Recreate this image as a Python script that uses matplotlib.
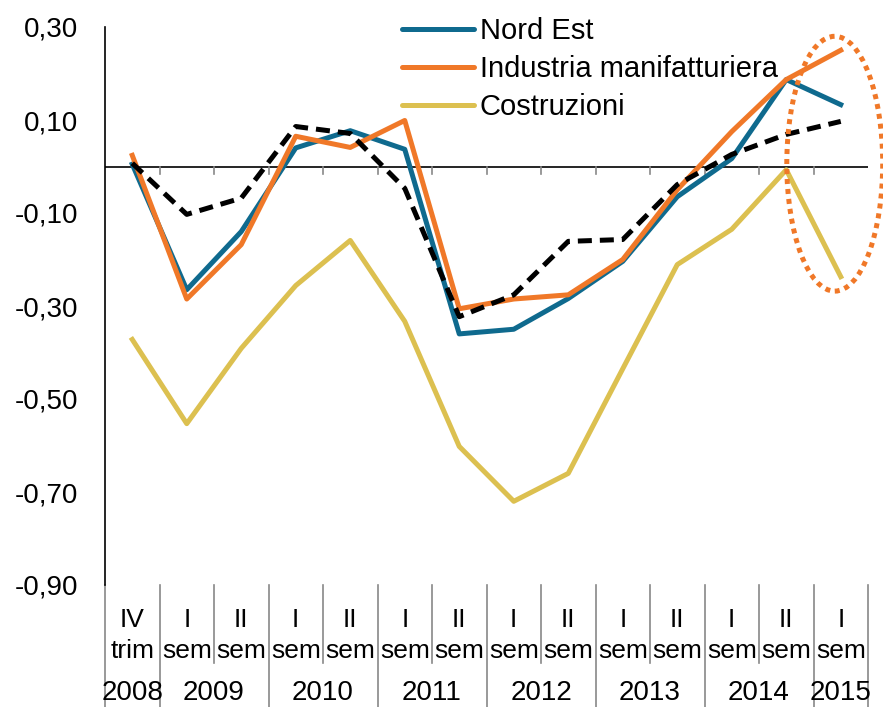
import matplotlib
matplotlib.use("Agg")
import matplotlib.pyplot as plt
from matplotlib.patches import Ellipse
import matplotlib.transforms as mtransforms

# Values
periods_top = ['IV', 'I', 'II', 'I', 'II', 'I', 'II', 'I', 'II', 'I', 'II', 'I', 'II', 'I']
periods_bot = ['trim', 'sem', 'sem', 'sem', 'sem', 'sem', 'sem', 'sem', 'sem', 'sem', 'sem', 'sem', 'sem', 'sem']
years = ['2008', '2009', '2010', '2011', '2012', '2013', '2014', '2015']
year_span = [(0, 0), (1, 2), (3, 4), (5, 6), (7, 8), (9, 10), (11, 12), (13, 13)]

nord_est = [0.005, -0.265, -0.14, 0.04, 0.077, 0.037, -0.36, -0.35, -0.284, -0.204, -0.065, 0.017, 0.187, 0.133]
manifattura = [0.024, -0.285, -0.168, 0.065, 0.041, 0.099, -0.306, -0.285, -0.276, -0.2, -0.05, 0.075, 0.187, 0.25]
costruzioni = [-0.372, -0.553, -0.391, -0.256, -0.159, -0.333, -0.602, -0.72, -0.66, -0.435, -0.211, -0.135, -0.007, -0.237]
italia = [0.007, -0.103, -0.068, 0.086, 0.071, -0.047, -0.323, -0.276, -0.161, -0.157, -0.039, 0.026, 0.069, 0.097]

yticks = [0.30, 0.10, -0.10, -0.30, -0.50, -0.70, -0.90]

blue = '#0f6a8e'
orange = '#f07828'
yellow = '#dcc050'

plt.rcParams['font.family'] = ['Liberation Sans', 'DejaVu Sans']

W, H = 883, 707
fig = plt.figure(figsize=(W / 100, H / 100), dpi=100)
ax = fig.add_axes([105 / W, 1 - 585 / H, 763 / W, 558 / H])

x = list(range(len(nord_est)))
lw = 3.6
ax.plot(x, costruzioni, color=yellow, lw=lw, label='Costruzioni', zorder=3)
ax.plot(x, nord_est, color=blue, lw=lw, label='Nord Est', zorder=4)
ax.plot(x, manifattura, color=orange, lw=lw, label='Industria manifatturiera', zorder=5)
ax.plot(x, italia, color='black', lw=lw, dashes=(2.8, 1.6), zorder=6)

ax.set_xlim(-0.5, len(x) - 0.5)
ax.set_ylim(-0.9, 0.3)
ax.set_yticks(yticks)
ax.set_yticklabels([('%.2f' % v).replace('.', ',') for v in yticks])
ax.tick_params(axis='y', length=0, pad=19, labelsize=20)
ax.set_xticks([])
for s in ['top', 'right', 'bottom']:
    ax.spines[s].set_visible(False)
ax.spines['left'].set_linewidth(1.2)

# zero line with small ticks
ax.axhline(0, color='black', lw=1.2, zorder=2)
for k in range(1, len(x)):
    ax.plot([k - 0.5, k - 0.5], [0, -0.017], color='#888888', lw=1.2, zorder=2)

# category axis below the plot
tr = mtransforms.blended_transform_factory(ax.transData, ax.transAxes)
year_edges = [s[0] - 0.5 for s in year_span] + [len(x) - 0.5]
for k in range(len(x) + 1):
    b = k - 0.5
    y1 = -0.219 if b in year_edges else -0.14
    ax.plot([b, b], [0, y1], transform=tr, color='#888888', lw=1.2, clip_on=False)
for i in x:
    ax.text(i, -0.062, periods_top[i], transform=tr, ha='center', va='center', fontsize=19)
    ax.text(i, -0.118, periods_bot[i], transform=tr, ha='center', va='center', fontsize=19)
for yr, (a, b) in zip(years, year_span):
    ax.text((a + b) / 2, -0.193, yr, transform=tr, ha='center', va='center', fontsize=20)

# highlight ellipse
ell = Ellipse((12.89, 0.006), 1.76, 0.548, fill=False, edgecolor=orange, lw=lw,
              linestyle=(0, (1, 1)), clip_on=False, zorder=7)
ax.add_patch(ell)

# legend, order as in reference
h, l = ax.get_legend_handles_labels()
order = [1, 2, 0]
leg = ax.legend([h[i] for i in order], [l[i] for i in order], loc='upper left',
                bbox_to_anchor=(402 / W, 1 - 17 / H), bbox_transform=fig.transFigure,
                frameon=False, fontsize=21, handlelength=2.46, handletextpad=0.2,
                labelspacing=0.35, borderpad=0, borderaxespad=0)
for line in leg.get_lines():
    line.set_solid_capstyle('round')

fig.savefig('out.png', dpi=100)
